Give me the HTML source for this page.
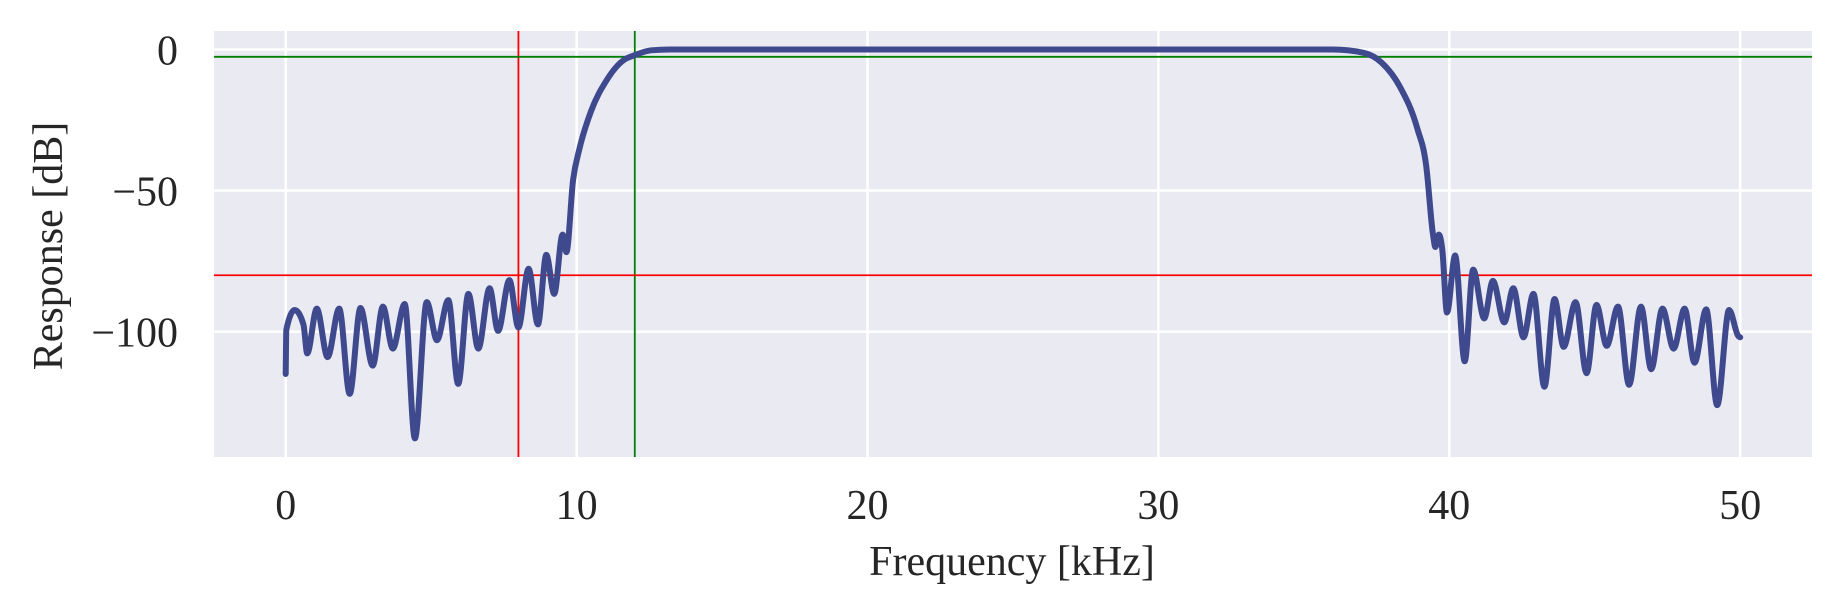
<!DOCTYPE html>
<html><head><meta charset="utf-8"><style>
html,body{margin:0;padding:0;background:#fff;}
svg{display:block;}
text{font-family:"Liberation Serif",serif;fill:#262626;}
</style></head><body>
<svg id="chart" width="1843" height="613" xmlns="http://www.w3.org/2000/svg">
<rect x="214" y="31" width="1598" height="426" fill="#eaeaf2"/>
<g id="grid"></g>
<g id="refs"></g>
<g id="series"></g>
<g id="xticks"></g>
<g id="yticks"></g>
<text x="1012" y="575" font-size="42" text-anchor="middle">Frequency [kHz]</text>
<text x="0" y="0" font-size="42" text-anchor="middle" transform="translate(62,246) rotate(-90)">Response [dB]</text>
</svg>
<script>
const xTicks = [0, 10, 20, 30, 40, 50];
const yTicks = [0, -50, -100];
const yTickLabels = ["0", "\u221250", "\u2212100"];
const freq = [0,0.02,0.31,0.61,0.74,1.07,1.44,1.84,2.2,2.57,2.99,3.34,3.68,4.09,4.44,4.85,5.2,5.59,5.93,6.28,6.62,7.01,7.3,7.69,8.0,8.35,8.67,8.96,9.23,9.52,9.65,9.88,10.1,10.49,11.03,11.64,11.95,12.56,13.2,36.0,37.07,37.68,38.29,38.9,39.2,39.44,39.52,39.64,39.76,39.92,40.2,40.53,40.82,41.2,41.5,41.89,42.2,42.55,42.89,43.27,43.62,43.93,44.34,44.72,45.06,45.41,45.8,46.18,46.59,46.94,47.33,47.71,48.09,48.43,48.83,49.21,49.62,49.93,50];
const response = [-115,-99.4,-92.3,-97.4,-107.7,-91.8,-109,-91.8,-122,-91.6,-112,-91.1,-106,-90.2,-137.8,-89.5,-103,-88.8,-118.5,-86.6,-106,-84.6,-99.7,-81.7,-98.5,-77.7,-97.4,-72.8,-86.6,-65.6,-71.8,-46.2,-35.1,-22,-10.9,-3.6,-2.2,-0.3,0,0,-1.2,-4.7,-13,-28,-40.7,-65.6,-70,-65.6,-71,-93.2,-73,-110.5,-78,-95.3,-82,-96.7,-84.6,-102,-86.6,-119.5,-88.4,-105.4,-89.5,-114.7,-90.5,-105,-91.1,-118.8,-91.1,-113.3,-91.8,-106,-91.8,-111,-92.1,-126,-92.3,-101.5,-102];
const refFreqs = [8, 12];
const refLevels = [-80, -2.6];
const refColors = ["#ff0000", "#008000"];

const NS = "http://www.w3.org/2000/svg";
const L = 214, R = 1812, T = 31, B = 457;
function xs(f){ return 285.7 + f * 29.09; }
function ys(d){ return 49.5 - d * 2.822; }
function mk(tag, attrs, parent){ const e = document.createElementNS(NS, tag); for (const k in attrs) e.setAttribute(k, attrs[k]); parent.appendChild(e); return e; }

const grid = document.getElementById('grid');
xTicks.forEach(t => {
  const l = mk('line', {x1: xs(t), x2: xs(t), y1: T, y2: B, stroke: '#fff', 'stroke-width': 2.6}, grid);
  
  
});
yTicks.forEach(t => {
  const l = mk('line', {x1: L, x2: R, y1: ys(t), y2: ys(t), stroke: '#fff', 'stroke-width': 2.6}, grid);
  
  
});

const refs = document.getElementById('refs');
refFreqs.forEach((f, i) => {
  const l = mk('line', {x1: xs(f), x2: xs(f), y1: T, y2: B, stroke: refColors[i], 'stroke-width': 1.8}, refs);
  
  
});
refLevels.forEach((d, i) => {
  const l = mk('line', {x1: L, x2: R, y1: ys(d), y2: ys(d), stroke: refColors[i], 'stroke-width': 1.8}, refs);
  
  
});

// monotone-x cubic interpolation (no overshoot)
const series = document.getElementById('series');
const X = freq.map(xs), Y = response.map(ys), n = X.length;
const h = [], s = [];
for (let i = 0; i < n - 1; i++) { h.push(X[i+1] - X[i]); s.push((Y[i+1] - Y[i]) / (X[i+1] - X[i])); }
const m = new Array(n);
m[0] = s[0]; m[n-1] = s[n-2];
for (let i = 1; i < n - 1; i++) {
  if (s[i-1] * s[i] <= 0) m[i] = 0;
  else {
    const p = (s[i-1] * h[i] + s[i] * h[i-1]) / (h[i-1] + h[i]);
    m[i] = (Math.sign(s[i-1]) + Math.sign(s[i])) * Math.min(Math.abs(s[i-1]), Math.abs(s[i]), 0.5 * Math.abs(p)) || 0;
  }
}
let d = 'M' + X[0].toFixed(1) + ',' + Y[0].toFixed(1);
for (let i = 0; i < n - 1; i++) {
  const dx = h[i] / 3;
  d += ' C' + (X[i] + dx).toFixed(1) + ',' + (Y[i] + m[i] * dx).toFixed(1) + ' ' + (X[i+1] - dx).toFixed(1) + ',' + (Y[i+1] - m[i+1] * dx).toFixed(1) + ' ' + X[i+1].toFixed(1) + ',' + Y[i+1].toFixed(1);
}
const pl = mk('path', {d: d, fill: 'none', stroke: '#3f4a8e', 'stroke-width': 6, 'stroke-linejoin': 'round', 'stroke-linecap': 'round'}, series);



const xt = document.getElementById('xticks');
xTicks.forEach(t => {
  const e = mk('text', {x: xs(t), y: 519, 'font-size': 42, 'text-anchor': 'middle'}, xt);
  e.textContent = String(t);
  
  
});
const yt = document.getElementById('yticks');
yTicks.forEach((t, i) => {
  const e = mk('text', {x: 178, y: ys(t) + 15, 'font-size': 42, 'text-anchor': 'end'}, yt);
  e.textContent = yTickLabels[i];
  
  
});
</script>
</body></html>
